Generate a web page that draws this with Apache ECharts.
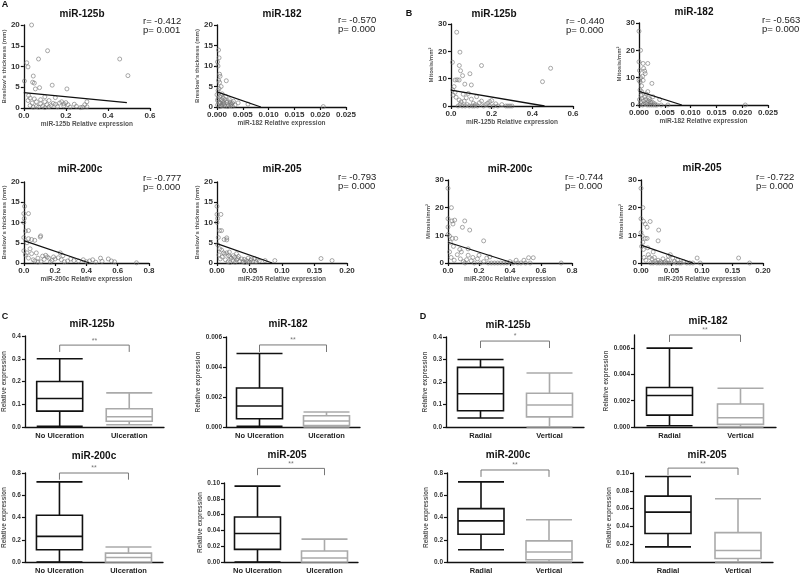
<!DOCTYPE html>
<html><head><meta charset="utf-8">
<script src="https://cdn.jsdelivr.net/npm/echarts@6/dist/echarts.min.js"></script>
<style>html,body{margin:0;padding:0;background:#fff}#c{width:800px;height:575px}</style>
</head><body><div id="c"></div>
<script>
// ---------------- DATA ----------------
const A_125b = [[0.037,20],[0.113,13.8],[0.07,11.8],[0.456,11.8],[0.495,7.8],[0.014,10.9],[0.02,9.9],[0.003,6.5],[0.045,7.7],[0.042,6.2],[0.05,6],[0.055,4.6],[0.075,4.9],[0.135,5.5],[0.205,4.6],[0.023,3],[0.03,2.4],[0.1,2.7],[0.15,2.5],[0.02,1.8],[0.04,1.2],[0.05,2.2],[0.06,1.5],[0.06,0.4],[0.08,1.0],[0.09,0.5],[0.1,1.5],[0.11,0.8],[0.12,1.8],[0.13,0.6],[0.14,1.1],[0.16,0.3],[0.17,1.2],[0.18,1.5],[0.19,1.0],[0.19,0.5],[0.2,1.3],[0.21,0.8],[0.22,0.2],[0.24,0.9],[0.25,0.4],[0.27,0.1],[0.28,0.2],[0.29,0.8],[0.3,1.5],[0.3,0.3],[0.03,0.6],[0.07,0.2],[0.12,0.3],[0.15,0.9],[0.08,2.0],[0.045,0.2],[0.1,0.1]];
const A_182 = [[0.0003,13.9],[0.0004,12],[0.0001,11],[0.0002,10],[0.0005,8],[0.0006,7.5],[0.0003,6.5],[0.0005,6],[0.0008,5],[0.0004,4.5],[0.0018,6.4],[0.0,3],[0.001,3.2],[0.0005,2.5],[0.0012,2.2],[0.0002,2],[0.0015,1.8],[0.002,1.5],[0.0025,1.2],[0.003,1.0],[0.0041,1.0],[0.006,0.7],[0.0206,0.1],[0.0001,0.5],[0.0007,1.0],[0.0009,0.3],[0.0013,0.8],[0.0016,0.2],[0.0019,1.1],[0.0022,0.5],[0.0026,0.3],[0.0028,0.8],[0.003,0.2],[0.0035,0.5],[0.0011,1.5],[0.0004,1.2],[0.0008,2.8],[0.0014,0.5],[0.0024,1.8],[0.0017,2.6],[0.0006,0.1],[0.0032,1.4],[0.0002,4],[0.0001,1.6],[0.001,0.6],[0.0021,0.1],[0.0027,0.6],[0.0012,1.1],[0.0005,0.8],[0.0009,1.8]];
const A_200c = [[0.005,14],[0.0,12.2],[0.03,12.2],[0.003,11],[0.0,10],[0.01,7.9],[0.03,8],[0.0,6.3],[0.03,6],[0.05,5.8],[0.07,5.6],[0.108,6.7],[0.105,6.4],[0.02,5],[0.0,3],[0.02,2.5],[0.05,2.3],[0.08,2.5],[0.12,1.7],[0.15,1.5],[0.16,1.2],[0.2,1.0],[0.233,2.5],[0.28,0.5],[0.3,1.0],[0.35,0.5],[0.38,0.8],[0.4,0.3],[0.42,0.5],[0.49,1.2],[0.54,1.0],[0.56,0.5],[0.58,0.3],[0.72,0.05],[0.03,1.2],[0.06,0.8],[0.09,1.2],[0.11,0.3],[0.13,0.9],[0.14,1.9],[0.18,0.6],[0.22,1.3],[0.24,0.8],[0.26,0.3],[0.32,0.6],[0.44,0.8],[0.46,0.2],[0.5,0.4],[0.09,0.2],[0.04,3.5],[0.17,0.2],[0.01,2],[0.07,0.5],[0.25,1.8],[0.19,1.5]];
const A_205 = [[0,14],[0,12],[0.006,12],[0.001,11],[0,10],[0.004,8],[0.007,8],[0.011,5.8],[0.015,6.2],[0.015,5.7],[0.002,6.3],[0.001,4.5],[0.004,3.5],[0.007,3.2],[0.01,2.5],[0.012,2.2],[0.015,2.5],[0.018,1.8],[0.02,1.5],[0.022,1.2],[0.025,1.8],[0.027,1.4],[0.03,0.8],[0.032,1.1],[0.035,0.5],[0.038,1.0],[0.04,0.3],[0.042,0.9],[0.045,0.6],[0.048,1.2],[0.05,0.2],[0.052,0.7],[0.055,0.4],[0.058,1.1],[0.06,0.3],[0.065,0.5],[0.074,0.6],[0.089,0.6],[0.16,1.1],[0.177,0.6],[0.003,2],[0.008,1.5],[0.013,0.8],[0.017,0.3],[0.02,0.1],[0.025,0.6],[0.028,0.2],[0.033,1.6],[0.043,0.1],[0.047,0.3],[0.053,1.0],[0.062,0.8],[0.005,1],[0.019,2.7],[0.03,2.3]];
const B_125b = [[0.028,27],[0.007,16],[0.044,19.7],[0.041,14.8],[0.047,12.9],[0.057,11.1],[0.093,11.8],[0.15,14.8],[0.1,7.7],[0.49,13.8],[0.45,8.9],[0.02,9.5],[0.03,9.6],[0.04,9.5],[0.015,7.1],[0.008,5.9],[0.068,8],[0.06,4.3],[0.085,4.6],[0.025,3.2],[0.04,2.2],[0.05,1.5],[0.055,0],[0.07,0],[0.08,0.5],[0.09,0],[0.1,2.5],[0.105,0],[0.11,1],[0.115,0],[0.12,0.5],[0.126,3.4],[0.13,0],[0.14,1.2],[0.15,1.8],[0.16,0],[0.17,0.5],[0.18,1],[0.19,1.6],[0.19,0],[0.2,2],[0.21,0],[0.22,0.8],[0.23,0],[0.25,0.5],[0.27,0],[0.28,0],[0.29,0],[0.3,0],[0.035,0],[0.045,0.6],[0.065,1.8],[0.075,3],[0.01,4],[0.02,5]];
const B_182 = [[0,27],[0.0003,20],[0,15.8],[0.0008,15.2],[0.0017,15.2],[0.0009,13.4],[0.0011,12.4],[0.0012,11.5],[0.0001,12.6],[0.0003,10],[0.0,9],[0.0008,9],[0.0025,7.9],[0.0005,4.9],[0.0017,4.9],[0.0027,3],[0.004,2],[0.0043,0],[0.0056,0],[0.0206,0],[0.0002,5.5],[0.0004,3.5],[0.0006,2.5],[0.0009,1.5],[0.0011,3],[0.0013,2],[0.0015,0.5],[0.0018,1.5],[0.002,0],[0.0021,2],[0.0023,0.8],[0.0024,0],[0.0026,1],[0.0028,0],[0.003,0.5],[0.0032,0],[0.0035,0],[0.0001,0],[0.0003,1],[0.0007,0],[0.0012,0.8],[0.0016,0],[0.0019,2.5],[0.0022,1.2],[0.0005,7],[0.0002,8.5],[0.0007,10.5],[0.0014,4],[0.0009,0.3],[0.0001,2]];
const B_200c = [[0,27],[0.022,20],[0,16],[0.026,15.2],[0.043,15.5],[0.032,14.1],[0.108,15.2],[0.093,12.9],[0.14,11.9],[0.23,8],[0,13],[0,10.3],[0.01,9.7],[0.028,8.9],[0.05,8.9],[0.076,4.9],[0.086,4],[0.13,5.1],[0.01,4],[0.13,2.8],[0.2,2.8],[0.25,1.8],[0.27,2.2],[0.52,1.9],[0.55,1.9],[0.44,1],[0.49,1],[0.73,0],[0.02,2],[0.04,1],[0.06,3],[0.08,1.5],[0.1,0.5],[0.11,0],[0.12,1.2],[0.15,0.8],[0.17,0],[0.19,1.5],[0.21,0],[0.23,0.5],[0.26,0],[0.28,0],[0.3,0],[0.32,0],[0.34,0],[0.36,0],[0.38,0],[0.4,0.5],[0.42,0],[0.45,0],[0.47,0],[0.5,0],[0.53,0],[0.035,6],[0.015,7.5],[0.16,2]];
const B_205 = [[0,27],[0.003,20],[0,16],[0.004,15.1],[0.007,14.1],[0.015,15],[0.01,12.9],[0.029,11.9],[0.028,8],[0,11],[0.002,9.8],[0.007,8.9],[0.01,8.9],[0.004,4.9],[0.012,3],[0.045,2.5],[0.048,3],[0.052,1.8],[0.092,1.8],[0.097,0],[0.16,1.8],[0.178,0],[0.005,2],[0.008,1],[0.014,2],[0.016,0],[0.018,1.5],[0.02,0],[0.022,2],[0.024,0.5],[0.026,0],[0.028,1],[0.03,0],[0.032,0.5],[0.034,0],[0.036,1.5],[0.038,0],[0.04,0.5],[0.042,0],[0.044,1],[0.046,0],[0.05,0],[0.055,0.5],[0.058,0],[0.06,1],[0.063,0],[0.066,0],[0.07,0.5],[0.075,0],[0.08,0],[0.085,0],[0.001,6],[0.003,7.5],[0.02,4],[0.011,5.5]];

// regression lines
const A_125b_fit = [[0,3.7],[0.49,1.3]];
const A_182_fit = [[0,3.7],[0.0085,0]];
const A_200c_fit = [[0,5.5],[0.42,0]];
const A_205_fit = [[0,4.8],[0.085,0]];
const B_125b_fit = [[0,5.8],[0.46,0]];
const B_182_fit = [[0,5.0],[0.0083,0]];
const B_200c_fit = [[0,7.5],[0.42,0]];
const B_205_fit = [[0,6.5],[0.085,0]];

// correlation text
const corrText = [
  ['r= -0.412','p= 0.001'],['r= -0.570','p= 0.000'],['r= -0.777','p= 0.000'],['r= -0.793','p= 0.000'],
  ['r= -0.440','p= 0.000'],['r= -0.563','p= 0.000'],['r= -0.744','p= 0.000'],['r= -0.722','p= 0.000']
];

// box plots [min, Q1, median, Q3, max]
const C_categories = ['No Ulceration','Ulceration'];
const D_categories = ['Radial','Vertical'];
const C_125b = [[0.003,0.07,0.125,0.20,0.30],[0.01,0.025,0.045,0.08,0.15]];
const C_182  = [[0.00005,0.00055,0.0014,0.0026,0.0049],[0.0,0.0001,0.0004,0.00075,0.001]];
const C_200c = [[0.0,0.11,0.23,0.42,0.72],[0.0,0.0,0.04,0.08,0.135]];
const C_205  = [[0.0,0.016,0.036,0.057,0.096],[0.0,0.0,0.005,0.014,0.029]];
const D_125b = [[0.04,0.072,0.148,0.265,0.30],[0.0,0.045,0.098,0.15,0.24]];
const D_182  = [[0.0001,0.0009,0.0024,0.003,0.006],[0.0,0.0002,0.0007,0.00175,0.00295]];
const D_200c = [[0.11,0.25,0.37,0.48,0.72],[0.0,0.02,0.09,0.19,0.38]];
const D_205  = [[0.017,0.032,0.056,0.074,0.096],[0.0,0.004,0.013,0.033,0.071]];
// significance brackets [level, drop, mark]
const C_sig = [[0.36,0.03,'**'],[0.00547,0.00047,'**'],[0.80,0.06,'**'],[0.1185,0.0086,'**']];
const D_sig = [[0.382,0.031,'*'],[0.0070,0.00053,'**'],[0.827,0.062,'**'],[0.1055,0.0077,'**']];

const miRNames = ['miR-125b','miR-182','miR-200c','miR-205'];

// ---------------- LAYOUT ----------------
const FONT = '"Liberation Sans", Arial, sans-serif';
const scatterLayout = [
  {g:{left:21,top:25,width:129,height:83}, xMax:0.6, xInt:0.2, dec:1, yMax:20, yInt:5},
  {g:{left:217,top:25,width:129,height:82}, xMax:0.025, xInt:0.005, dec:3, yMax:20, yInt:5},
  {g:{left:21,top:182,width:128,height:81}, xMax:0.8, xInt:0.2, dec:1, yMax:20, yInt:5},
  {g:{left:217,top:182,width:130,height:81}, xMax:0.2, xInt:0.05, dec:2, yMax:20, yInt:5},
  {g:{left:451,top:24,width:122,height:82}, xMax:0.6, xInt:0.2, dec:1, yMax:30, yInt:10},
  {g:{left:639,top:23,width:129,height:82}, xMax:0.025, xInt:0.005, dec:3, yMax:30, yInt:10},
  {g:{left:448,top:180,width:124,height:83}, xMax:0.8, xInt:0.2, dec:1, yMax:30, yInt:10},
  {g:{left:641,top:180,width:122,height:83}, xMax:0.2, xInt:0.05, dec:2, yMax:30, yInt:10}
];
const scatterData = [A_125b,A_182,A_200c,A_205,B_125b,B_182,B_200c,B_205];
const scatterFit = [A_125b_fit,A_182_fit,A_200c_fit,A_205_fit,B_125b_fit,B_182_fit,B_200c_fit,B_205_fit];
const titlePos = [[82,14],[282,14],[80,169],[282,169],[494,14],[694,12],[510,169],[702,168]];
const corrPos = [[143,26],[338,25],[143,183],[338,182],[566,26],[762,25],[565,182],[756,182]];

const boxLayout = [
  {g:{left:22,top:336,width:142,height:91}, max:0.4, int:0.1, dec:1},
  {g:{left:226,top:337,width:134,height:90}, max:0.006, int:0.002, dec:3},
  {g:{left:23,top:473,width:140,height:91}, max:0.8, int:0.2, dec:1},
  {g:{left:224,top:483,width:134,height:81}, max:0.10, int:0.02, dec:2},
  {g:{left:446,top:337,width:138,height:90}, max:0.4, int:0.1, dec:1},
  {g:{left:634,top:335,width:142,height:92}, max:0.007, int:0.002, dec:3, custom:[0,0.002,0.004,0.006]},
  {g:{left:447,top:473,width:136,height:90}, max:0.8, int:0.2, dec:1},
  {g:{left:633,top:473,width:140,height:91}, max:0.10, int:0.02, dec:2}
];
const boxData = [C_125b,C_182,C_200c,C_205,D_125b,D_182,D_200c,D_205];
const boxSig = C_sig.concat(D_sig);
const boxTitlePos = [[92,324],[288,324],[94,456],[287,455],[508,325],[708,321],[508,455],[707,455]];

// ---------------- BUILD ----------------
const grid=[], xAxis=[], yAxis=[], series=[], graphic=[];
const axisLineStyle = {onZero:false,lineStyle:{color:'#111',width:1.3}};
const tickStyle = {show:true,inside:false,length:3,lineStyle:{color:'#111',width:1.2}};

scatterLayout.forEach((L,i)=>{
  const yName = i<4 ? "Breslow's thickness (mm)" : 'Mitosis/mm\u00b2';
  grid.push(L.g);
  xAxis.push({type:'value',gridIndex:i,min:0,max:L.xMax,interval:L.xInt,
    name: miRNames[i%4]+' Relative expression', nameLocation:'middle', nameGap:13,
    nameTextStyle:{fontFamily:FONT,fontSize:6.5,fontWeight:'bold',color:'#555'},
    axisLine:axisLineStyle, axisTick:tickStyle, splitLine:{show:false},
    axisLabel:{fontFamily:FONT,fontSize:8,fontWeight:'bold',color:'#333',margin:4,formatter:v=>v.toFixed(L.dec)}});
  yAxis.push({type:'value',gridIndex:i,min:0,max:L.yMax,interval:L.yInt,
    name:yName, nameLocation:'middle', nameGap:12,
    nameTextStyle:{fontFamily:FONT,fontSize:6,fontWeight:'bold',color:'#555'},
    axisLine:axisLineStyle, axisTick:tickStyle, splitLine:{show:false},
    axisLabel:{fontFamily:FONT,fontSize:8,fontWeight:'bold',color:'#333',margin:4}});
  series.push({type:'scatter',xAxisIndex:i,yAxisIndex:i,data:scatterData[i],symbol:'circle',symbolSize:4,
    itemStyle:{color:'rgba(255,255,255,0)',borderColor:'#777',borderWidth:0.8},clip:false,z:3});
  series.push({type:'line',xAxisIndex:i,yAxisIndex:i,data:scatterFit[i],symbol:'none',
    lineStyle:{color:'#111',width:1.3},z:4});
  graphic.push({type:'text',x:titlePos[i][0],y:titlePos[i][1],
    style:{text:miRNames[i%4],font:'bold 10px '+FONT,fill:'#111',align:'center',verticalAlign:'middle',textAlign:'center',textVerticalAlign:'middle'}});
  graphic.push({type:'text',x:corrPos[i][0],y:corrPos[i][1],
    style:{text:corrText[i][0]+'\n'+corrText[i][1],font:'9.5px '+FONT,lineHeight:9,fill:'#222',align:'left',verticalAlign:'middle',textAlign:'left',textVerticalAlign:'middle'}});
});

const extraX = [];
boxLayout.forEach((L,k)=>{
  const i = k+8;
  const cats = k<4 ? C_categories : D_categories;
  grid.push(L.g);
  xAxis.push({type:'category',gridIndex:i,data:cats,
    axisLine:axisLineStyle, axisTick:{show:false}, splitLine:{show:false},
    axisLabel:{fontFamily:FONT,fontSize:7.5,fontWeight:'bold',color:'#222',margin:5}});
  // hidden value axis aligned with category centres (0 and 1), used for the significance mark
  extraX.push({type:'value',gridIndex:i,min:-0.5,max:1.5,show:false,axisLine:{onZero:false}});
  const ya = {type:'value',gridIndex:i,min:0,max:L.max,interval:L.int,
    name:'Relative expression', nameLocation:'middle', nameGap:15,
    nameTextStyle:{fontFamily:FONT,fontSize:6.5,fontWeight:'bold',color:'#555'},
    axisLine:axisLineStyle, axisTick:Object.assign({},tickStyle), splitLine:{show:false},
    axisLabel:{fontFamily:FONT,fontSize:6.5,fontWeight:'bold',color:'#333',margin:4,formatter:v=>v.toFixed(L.dec)}};
  if (L.custom){ ya.axisTick.customValues=L.custom; ya.axisLabel.customValues=L.custom; }
  yAxis.push(ya);
  const d = boxData[k];
  series.push({type:'boxplot',xAxisIndex:i,yAxisIndex:i,boxWidth:[46,46],
    data:[{value:d[0],itemStyle:{color:'#fff',borderColor:'#111',borderWidth:1.6}},
          {value:d[1],itemStyle:{color:'#fff',borderColor:'#aaa',borderWidth:1.6}}]});
  const s = boxSig[k];
  series.push({type:'line',xAxisIndex:i,yAxisIndex:i,clip:false,symbol:'none',
    data:[[0,s[0]-s[1]],[0,s[0]],[1,s[0]],[1,s[0]-s[1]]],
    lineStyle:{color:'#777',width:1}});
  series.push({type:'scatter',xAxisIndex:16+k,yAxisIndex:i,clip:false,symbolSize:0.01,
    itemStyle:{color:'rgba(0,0,0,0)'},
    data:[[0.5,s[0]]],
    label:{show:true,position:'top',formatter:s[2],fontFamily:FONT,fontSize:7,color:'#555',distance:1}});
  graphic.push({type:'text',x:boxTitlePos[k][0],y:boxTitlePos[k][1],
    style:{text:miRNames[k%4],font:'bold 10px '+FONT,fill:'#111',align:'center',verticalAlign:'middle',textAlign:'center',textVerticalAlign:'middle'}});
});
extraX.forEach(a=>xAxis.push(a));

[['A',5,5],['B',409,14],['C',5,317],['D',423,317]].forEach(p=>{
  graphic.push({type:'text',x:p[1],y:p[2],style:{text:p[0],font:'bold 9px '+FONT,fill:'#111',align:'center',verticalAlign:'middle',textAlign:'center',textVerticalAlign:'middle'}});
});

const chart = echarts.init(document.getElementById('c'),null,{renderer:'canvas'});
chart.setOption({animation:false,backgroundColor:'#fff',grid,xAxis,yAxis,series,graphic});
</script></body></html>
